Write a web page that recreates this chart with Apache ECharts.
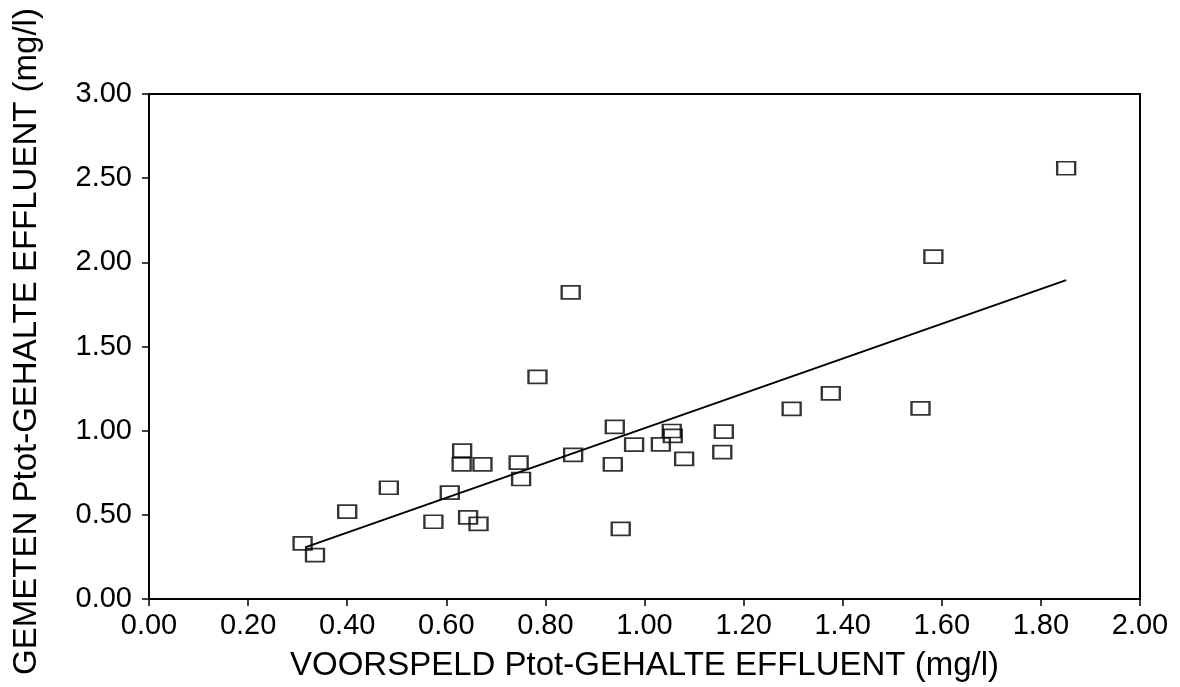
<!DOCTYPE html>
<html>
<head>
<meta charset="utf-8">
<script src="https://cdn.jsdelivr.net/npm/echarts@6/dist/echarts.min.js"></script>
<style>
html,body{margin:0;padding:0;background:#fff;}
#chart{width:1180px;height:687px;}
</style>
</head>
<body>
<div id="chart"></div>
<script>
// Predicted (x) and measured (y) Ptot in effluent, mg/l
const predicted = [0.31, 0.335, 0.40, 0.484, 0.574, 0.607, 0.632, 0.631, 0.644, 0.665, 0.673, 0.746, 0.751, 0.784, 0.851, 0.856, 0.936, 0.940, 0.952, 0.979, 1.033, 1.055, 1.057, 1.080, 1.160, 1.157, 1.297, 1.376, 1.557, 1.583, 1.851];
const measured  = [0.331, 0.261, 0.519, 0.661, 0.459, 0.632, 0.881, 0.800, 0.485, 0.446, 0.800, 0.810, 0.713, 1.319, 1.822, 0.856, 0.800, 1.022, 0.416, 0.917, 0.919, 0.998, 0.969, 0.832, 0.994, 0.873, 1.130, 1.222, 1.133, 2.034, 2.559];
// Regression line end points
const fitX = [0.315, 1.851];
const fitY = [0.307, 1.894];
const xTicks = [0, 0.2, 0.4, 0.6, 0.8, 1.0, 1.2, 1.4, 1.6, 1.8, 2.0];
const yTicks = [0, 0.5, 1.0, 1.5, 2.0, 2.5, 3.0];

const FONT = '"Liberation Sans", Arial, sans-serif';
const chart = echarts.init(document.getElementById('chart'), null, {renderer: 'canvas'});
chart.setOption({
  animation: false,
  backgroundColor: '#fff',
  grid: {left: 149, right: 40, top: 94, bottom: 88, show: true, borderColor: '#000', borderWidth: 2, backgroundColor: 'transparent'},
  xAxis: {
    type: 'value', min: xTicks[0], max: xTicks[xTicks.length - 1], interval: 0.2,
    name: 'VOORSPELD Ptot-GEHALTE EFFLUENT (mg/l)',
    nameLocation: 'middle', nameGap: 50,
    nameTextStyle: {fontFamily: FONT, fontSize: 33, color: '#000', verticalAlign: 'top'},
    axisLine: {show: true, lineStyle: {color: '#000', width: 2}},
    axisTick: {show: true, inside: false, length: 7, lineStyle: {color: '#000', width: 1.5}},
    axisLabel: {fontFamily: FONT, fontSize: 29, color: '#000', margin: 12,
      formatter: v => v.toFixed(2)},
    splitLine: {show: false}
  },
  yAxis: {
    type: 'value', min: yTicks[0], max: yTicks[yTicks.length - 1], interval: 0.5,
    name: 'GEMETEN Ptot-GEHALTE EFFLUENT (mg/l)',
    nameLocation: 'middle', nameGap: 106, nameRotate: 90,
    nameTextStyle: {fontFamily: FONT, fontSize: 33, color: '#000', padding: [0, 0, 0, 10]},
    axisLine: {show: true, lineStyle: {color: '#000', width: 2}},
    axisTick: {show: true, inside: false, length: 7, lineStyle: {color: '#000', width: 1.5}},
    axisLabel: {fontFamily: FONT, fontSize: 29, color: '#000', margin: 17,
      formatter: v => v.toFixed(2)},
    splitLine: {show: false}
  },
  series: [
    {
      type: 'line',
      data: fitX.map((x, i) => [x, fitY[i]]),
      showSymbol: false,
      lineStyle: {color: '#000', width: 2},
      z: 2
    },
    {
      type: 'scatter',
      data: predicted.map((x, i) => [x, measured[i]]),
      symbol: 'rect',
      symbolSize: [18, 13],
      itemStyle: {color: 'rgba(255,255,255,0)', borderColor: '#000', borderWidth: 2},
      z: 3
    }
  ]
});
</script>
</body>
</html>
